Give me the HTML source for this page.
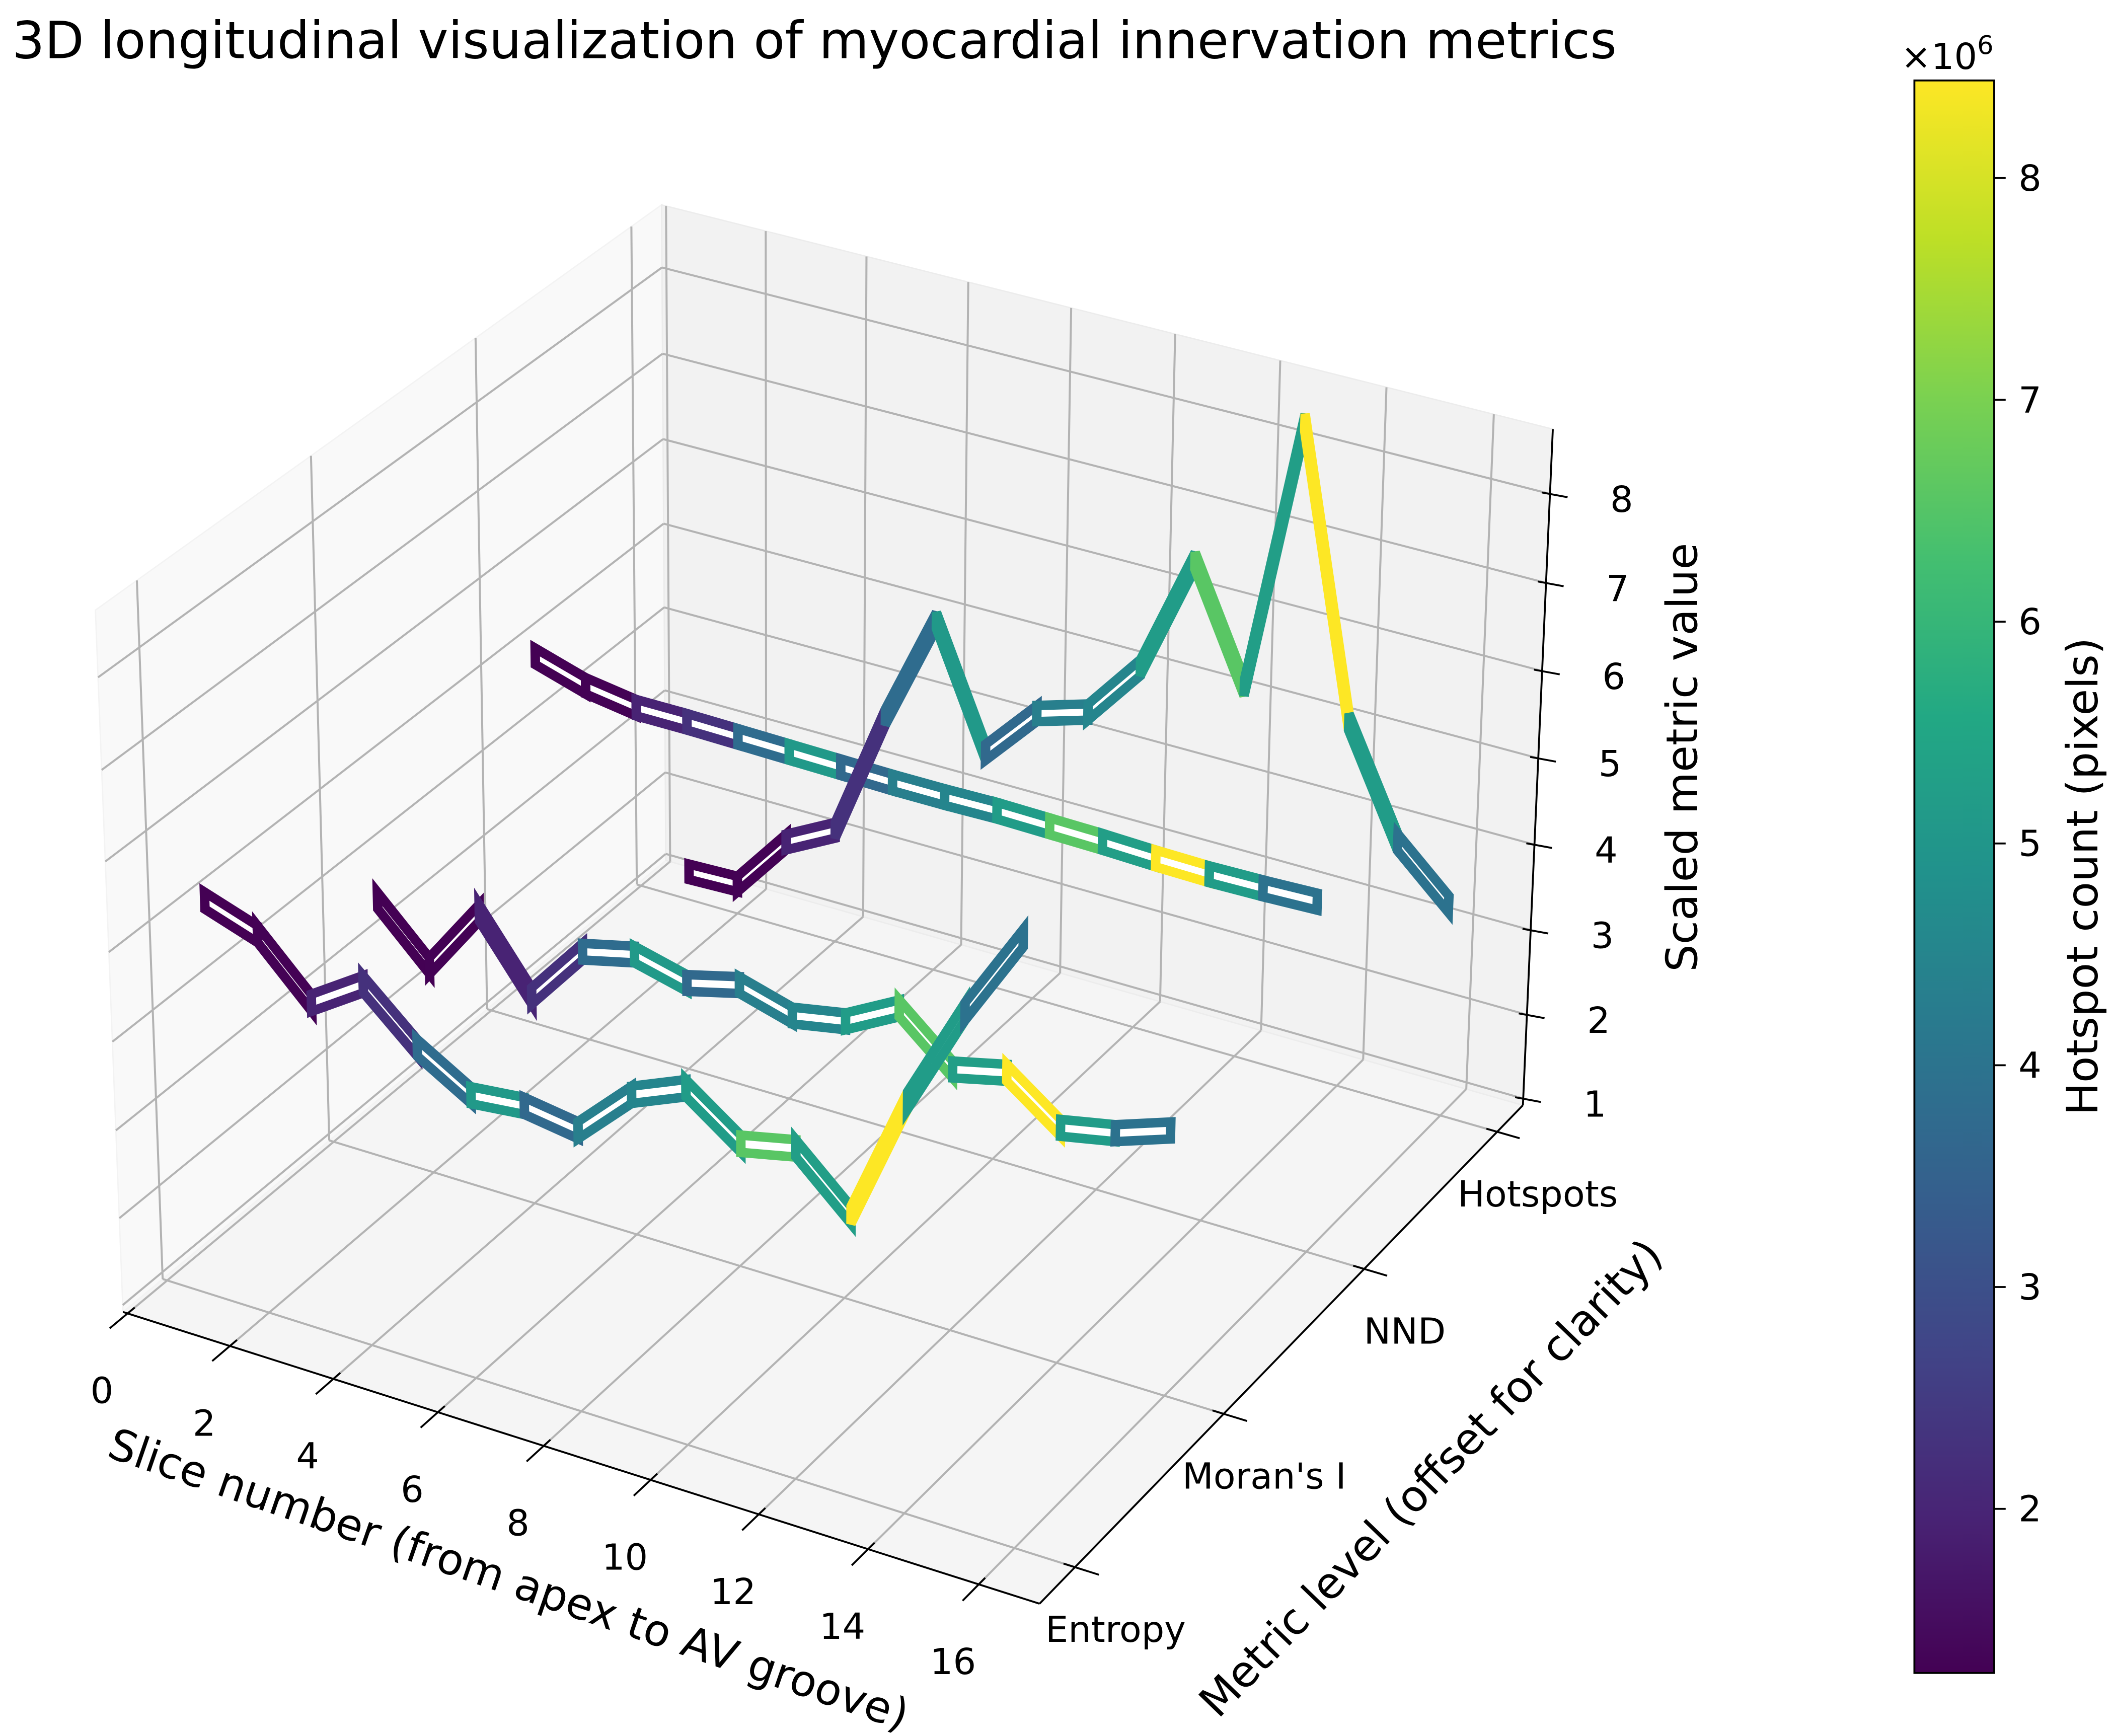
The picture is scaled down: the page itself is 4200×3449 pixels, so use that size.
<!DOCTYPE html>
<html>
<head>
<meta charset="utf-8">
<style>
html,body{margin:0;padding:0;background:#ffffff;}
svg{display:block;}
text{font-family:"DejaVu Sans","Liberation Sans",sans-serif;fill:#000;}
</style>
</head>
<body>
<svg id="chart" xmlns="http://www.w3.org/2000/svg" width="4200" height="3449" viewBox="0 0 1563.1 1283.6" preserveAspectRatio="none">
  <defs>
    <linearGradient id="viridisGrad" x1="0" y1="1" x2="0" y2="0"></linearGradient>
  </defs>
  <rect x="0" y="0" width="1563.1" height="1283.6" fill="#ffffff"/>
  <text x="9" y="43" font-size="37.8">3D longitudinal visualization of myocardial innervation metrics</text>
  <g id="panes"></g>
  <g id="grid"></g>
  <g id="axislines"></g>
  <g id="series"></g>
  <g id="ticks"></g>
  <text x="0" y="0" font-size="32" text-anchor="middle" dominant-baseline="central" transform="translate(376,1168) rotate(19)">Slice number (from apex to AV groove)</text>
  <text x="0" y="0" font-size="32" text-anchor="middle" dominant-baseline="central" transform="translate(1058,1093) rotate(-46)">Metric level (offset for clarity)</text>
  <text x="0" y="0" font-size="32" text-anchor="middle" dominant-baseline="central" transform="translate(1244,560) rotate(-90)">Scaled metric value</text>
  <g id="colorbar"></g>
  <text x="0" y="0" font-size="32" text-anchor="middle" dominant-baseline="central" transform="translate(1540,648) rotate(-90)">Hotspot count (pixels)</text>
  <text x="1474" y="51" font-size="26.7" text-anchor="end">×10<tspan font-size="19" dy="-11">6</tspan></text>
</svg>
<script>
// ---------------- data ----------------
const sliceNumbers = [1,2,3,4,5,6,7,8,9,10,11,12,13,14,15,16];
const levelNames = ["Entropy","Moran's I","NND","Hotspots"];
const entropyValues = [5.41,5.21,4.62,5.00,4.47,4.12,4.18,4.09,4.66,4.91,4.48,4.61,4.06,5.49,6.62,7.57];
const moranValues = [3.91,3.33,4.11,3.33,4.01,4.15,4.00,4.15,3.98,4.09,4.41,3.90,4.04,3.60,3.72,3.93];
const nndValues = [5.27,5.09,5.00,5.00,4.99,4.98,4.97,4.96,4.96,4.97,4.96,4.95,4.93,4.92,4.93,4.95];
const hotspotValues = [1.26,1.28,1.96,2.27,3.79,5.09,3.70,4.32,4.50,5.18,6.57,5.27,8.44,5.20,3.97,3.42];
const xTickValues = [0,2,4,6,8,10,12,14,16];
const zTickValues = [1,2,3,4,5,6,7,8];
const colorbarTicks = [2,3,4,5,6,7,8];

// ---------------- axes / projection ----------------
const XL = [-0.09, 17.09], YL = [-0.23, 3.2], ZL = [0.92, 8.72];
const NS = 'http://www.w3.org/2000/svg';
function mk(tag, attrs, parent){
  const e = document.createElementNS(NS, tag);
  for (const k in attrs) e.setAttribute(k, attrs[k]);
  parent.appendChild(e);
  return e;
}
function world(x,y,z){
  return [(x-XL[0])/(XL[1]-XL[0])*4, (y-YL[0])/(YL[1]-YL[0])*4, (z-ZL[0])/(ZL[1]-ZL[0])*3];
}
// screen calibration points (axis geometry, not data)
const calib = [
  [XL[0],YL[0],ZL[0], 93,966],
  [XL[1],YL[0],ZL[0], 768,1185],
  [XL[1],YL[1],ZL[0], 1127,814],
  [XL[1],YL[1],ZL[1], 1148.5,319.5],
  [XL[0],YL[1],ZL[0], 490,640],
  [XL[0],YL[1],ZL[1], 490,150],
  [XL[0],YL[0],ZL[1], 70,450],
  [XL[1],YL[1],2, 1127,748],
  [XL[1],YL[1],8, 1145.6,366],
  [XL[1],0,ZL[0], 794,1158],
  [XL[1],3,ZL[0], 1110,837],
  [0,YL[0],ZL[0], 95,969],
  [8,YL[0],ZL[0], 401,1078]
];
let Hm = null;
(function fitDLT(){
  const rows=[], rhs=[];
  calib.forEach(c=>{
    const w=world(c[0],c[1],c[2]); const X=w[0],Y=w[1],Z=w[2],u=c[3],v=c[4];
    rows.push([X,Y,Z,1,0,0,0,0,-u*X,-u*Y,-u*Z]); rhs.push(u);
    rows.push([0,0,0,0,X,Y,Z,1,-v*X,-v*Y,-v*Z]); rhs.push(v);
  });
  const n=11;
  const A=[]; for(let i=0;i<n;i++){A.push(new Array(n+1).fill(0));}
  for(let r=0;r<rows.length;r++){
    for(let i=0;i<n;i++){
      for(let j=0;j<n;j++) A[i][j]+=rows[r][i]*rows[r][j];
      A[i][n]+=rows[r][i]*rhs[r];
    }
  }
  for(let i=0;i<n;i++) A[i][i]+=1e-6;
  for(let c=0;c<n;c++){
    let piv=c; for(let r=c+1;r<n;r++) if(Math.abs(A[r][c])>Math.abs(A[piv][c])) piv=r;
    const tmp=A[c];A[c]=A[piv];A[piv]=tmp;
    for(let r=0;r<n;r++){ if(r===c) continue; const f=A[r][c]/A[c][c]; for(let k=c;k<=n;k++) A[r][k]-=f*A[c][k]; }
  }
  Hm = A.map((row,i)=>row[n]/row[i]);
})();
function P(x,y,z){
  const w=world(x,y,z), h=Hm;
  const d=h[8]*w[0]+h[9]*w[1]+h[10]*w[2]+1;
  return [(h[0]*w[0]+h[1]*w[1]+h[2]*w[2]+h[3])/d, (h[4]*w[0]+h[5]*w[1]+h[6]*w[2]+h[7])/d];
}
function pts(arr){return arr.map(p=>p[0].toFixed(2)+','+p[1].toFixed(2)).join(' ');}

// ---------------- colormap ----------------
const viridisStops = ['#440154','#482475','#414487','#355f8d','#2a788e','#21918c','#22a884','#44bf70','#7ad151','#bddf26','#fde725'];
function hex2rgb(h){return [parseInt(h.substr(1,2),16),parseInt(h.substr(3,2),16),parseInt(h.substr(5,2),16)];}
function viridis(t){
  t = Math.max(0, Math.min(1, t));
  const f = t*(viridisStops.length-1);
  const i = Math.min(Math.floor(f), viridisStops.length-2);
  const r = f-i;
  const a = hex2rgb(viridisStops[i]), b = hex2rgb(viridisStops[i+1]);
  return 'rgb('+[0,1,2].map(k=>Math.round(a[k]+(b[k]-a[k])*r)).join(',')+')';
}
const cMin = Math.min(...hotspotValues), cMax = Math.max(...hotspotValues);
function colorOf(v){return viridis((v-cMin)/(cMax-cMin));}

// ---------------- panes ----------------
const gPanes = document.getElementById('panes');
const floorPane = mk('polygon', {points: pts([P(XL[0],YL[0],ZL[0]),P(XL[1],YL[0],ZL[0]),P(XL[1],YL[1],ZL[0]),P(XL[0],YL[1],ZL[0])]), fill:'#f5f5f5', stroke:'#f0f0f0', 'stroke-width':1}, gPanes);


const leftPane = mk('polygon', {points: pts([P(XL[0],YL[0],ZL[0]),P(XL[0],YL[1],ZL[0]),P(XL[0],YL[1],ZL[1]),P(XL[0],YL[0],ZL[1])]), fill:'#f9f9f9', stroke:'#f3f3f3', 'stroke-width':1}, gPanes);


const backPane = mk('polygon', {points: pts([P(XL[0],YL[1],ZL[0]),P(XL[1],YL[1],ZL[0]),P(XL[1],YL[1],ZL[1]),P(XL[0],YL[1],ZL[1])]), fill:'#f2f2f2', stroke:'#ececec', 'stroke-width':1}, gPanes);



// ---------------- grid ----------------
const gGrid = document.getElementById('grid');
function gridLine(a,b,name){
  const l = mk('line', {x1:a[0],y1:a[1],x2:b[0],y2:b[1],stroke:'#b3b3b3','stroke-width':1.5}, gGrid);
  
  
}
xTickValues.forEach(x=>{
  gridLine(P(x,YL[0],ZL[0]), P(x,YL[1],ZL[0]), 'x-grid-floor');
  gridLine(P(x,YL[1],ZL[0]), P(x,YL[1],ZL[1]), 'x-grid-back');
});
levelNames.forEach((n,y)=>{
  gridLine(P(XL[0],y,ZL[0]), P(XL[1],y,ZL[0]), 'y-grid-floor');
  gridLine(P(XL[0],y,ZL[0]), P(XL[0],y,ZL[1]), 'y-grid-left');
});
zTickValues.forEach(z=>{
  gridLine(P(XL[0],YL[0],z), P(XL[0],YL[1],z), 'z-grid-left');
  gridLine(P(XL[0],YL[1],z), P(XL[1],YL[1],z), 'z-grid-back');
});

// ---------------- axis lines ----------------
const gAx = document.getElementById('axislines');
function axLine(a,b,name){
  const l = mk('line', {x1:a[0],y1:a[1],x2:b[0],y2:b[1],stroke:'#000','stroke-width':1.4}, gAx);
  
  
}
axLine(P(XL[0],YL[0],ZL[0]), P(XL[1],YL[0],ZL[0]), 'x-axis-line');
axLine(P(XL[1],YL[0],ZL[0]), P(XL[1],YL[1],ZL[0]), 'y-axis-line');
axLine(P(XL[1],YL[1],ZL[0]), P(XL[1],YL[1],ZL[1]), 'z-axis-line');

// ---------------- series ----------------
const gSeries = document.getElementById('series');
const HALF = 0.095;
function drawRibbon(vals, level, name){
  const g = mk('g', {}, gSeries);
  
  
  for(let i=0;i<sliceNumbers.length-1;i++){
    const x0=sliceNumbers[i], x1=sliceNumbers[i+1];
    const quad=[P(x0,level,vals[i]-HALF),P(x1,level,vals[i+1]-HALF),P(x1,level,vals[i+1]+HALF),P(x0,level,vals[i]+HALF)];
    const seg = mk('polygon', {points:pts(quad), fill:'#ffffff', stroke:colorOf(hotspotValues[i]), 'stroke-width':7, 'stroke-linejoin':'miter', 'stroke-miterlimit':4}, g);
    
    
  }
}
drawRibbon(nndValues, 2, 'nnd-line');
drawRibbon(hotspotValues, 3, 'hotspots-line');
drawRibbon(moranValues, 1, 'morans-i-line');
drawRibbon(entropyValues, 0, 'entropy-line');

// ---------------- ticks ----------------
const gTicks = document.getElementById('ticks');
const yRange = YL[1]-YL[0], xRange = XL[1]-XL[0];
xTickValues.forEach(x=>{
  const a=P(x,YL[0]+0.012*yRange,ZL[0]), b=P(x,YL[0]-0.03*yRange,ZL[0]);
  const t = mk('line',{x1:a[0],y1:a[1],x2:b[0],y2:b[1],stroke:'#000','stroke-width':1.4},gTicks);
  
  
  const p=P(x,YL[0],ZL[0]);
  const lb = mk('text',{x:p[0]-19,y:p[1]+57,'font-size':26.7,'text-anchor':'middle','dominant-baseline':'central'},gTicks);
  lb.textContent = String(x);
  
  
});
levelNames.forEach((n,y)=>{
  const a=P(XL[1]-0.012*xRange,y,ZL[0]), b=P(XL[1]+0.025*xRange,y,ZL[0]);
  const t = mk('line',{x1:a[0],y1:a[1],x2:b[0],y2:b[1],stroke:'#000','stroke-width':1.4},gTicks);
  
  
  const p=P(XL[1],y,ZL[0]);
  const lb = mk('text',{x:p[0]+30,y:p[1]+46,'font-size':26.7,'text-anchor':'middle','dominant-baseline':'central'},gTicks);
  lb.textContent = n;
  
  
});
zTickValues.forEach(z=>{
  const p=P(XL[1],YL[1],z);
  const t = mk('line',{x1:p[0]-6,y1:p[1]-1,x2:p[0]+13,y2:p[1]+2.5,stroke:'#000','stroke-width':1.4},gTicks);
  
  
  const lb = mk('text',{x:p[0]+53,y:p[1]+4,'font-size':26.7,'text-anchor':'middle','dominant-baseline':'central'},gTicks);
  lb.textContent = String(z);
  
  
});

// ---------------- colorbar ----------------
const grad = document.getElementById('viridisGrad');
viridisStops.forEach((c,i)=>{
  mk('stop',{offset:(i/(viridisStops.length-1)).toFixed(3),'stop-color':c},grad);
});
const gCb = document.getElementById('colorbar');
const CB = {x:1415.5, top:59.5, bottom:1237, w:59};
function cbY(v){return CB.bottom-(v-cMin)/(cMax-cMin)*(CB.bottom-CB.top);}
const cbRect = mk('rect',{x:CB.x,y:CB.top,width:CB.w,height:CB.bottom-CB.top,fill:'url(#viridisGrad)',stroke:'#000','stroke-width':1.4},gCb);


colorbarTicks.forEach(v=>{
  const y=cbY(v);
  const t = mk('line',{x1:CB.x+CB.w,y1:y,x2:CB.x+CB.w+8.5,y2:y,stroke:'#000','stroke-width':1.4},gCb);
  
  
  const lb = mk('text',{x:CB.x+CB.w+18,y:y,'font-size':26.7,'dominant-baseline':'central'},gCb);
  lb.textContent = String(v);
  
  
});
</script>
</body>
</html>
